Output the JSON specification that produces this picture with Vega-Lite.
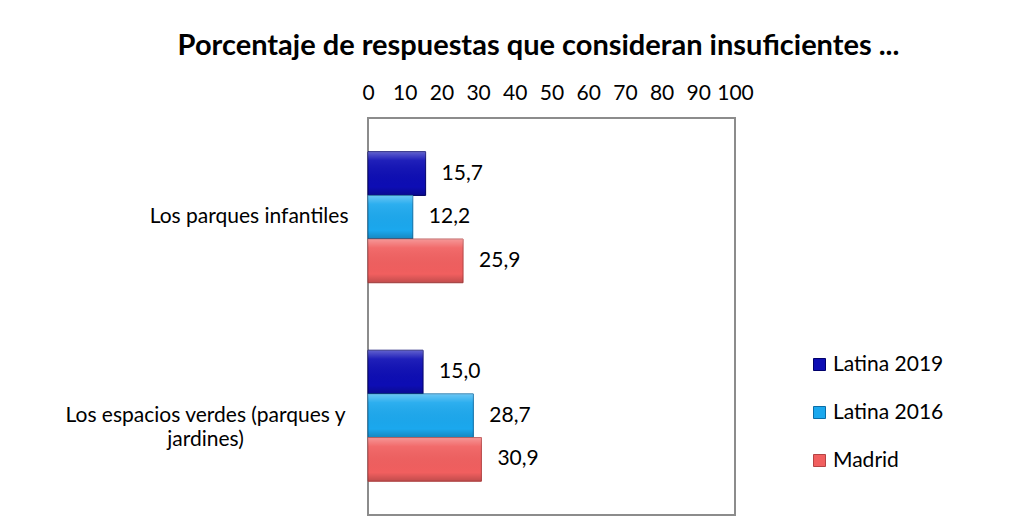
{
  "$schema": "https://vega.github.io/schema/vega-lite/v6.json",
  "width": 367,
  "height": 397,
  "autosize": "none",
  "padding": {"left": 368, "top": 118, "right": 275, "bottom": 14},
  "background": "white",
  "title": {
    "text": "Porcentaje de respuestas que consideran insuficientes ...",
    "font": "Lato",
    "fontSize": 29,
    "fontWeight": "bold",
    "color": "#000000",
    "anchor": "middle",
    "dx": -13,
    "offset": 21
  },
  "data": {
    "values": [
      {"categoria": "Los parques infantiles", "serie": "Latina 2019", "valor": 15.7},
      {"categoria": "Los parques infantiles", "serie": "Latina 2016", "valor": 12.2},
      {"categoria": "Los parques infantiles", "serie": "Madrid", "valor": 25.9},
      {"categoria": "Los espacios verdes (parques y jardines)", "serie": "Latina 2019", "valor": 15.0},
      {"categoria": "Los espacios verdes (parques y jardines)", "serie": "Latina 2016", "valor": 28.7},
      {"categoria": "Los espacios verdes (parques y jardines)", "serie": "Madrid", "valor": 30.9}
    ]
  },
  "encoding": {
    "y": {
      "field": "categoria",
      "type": "nominal",
      "sort": ["Los parques infantiles", "Los espacios verdes (parques y jardines)"],
      "scale": {"paddingInner": 0.34, "paddingOuter": 0.17},
      "axis": {
        "title": null,
        "domain": false,
        "ticks": false,
        "labelFont": "Lato",
        "labelFontSize": 21,
        "labelColor": "#000000",
        "labelLimit": 400,
        "labelLineHeight": 24,
        "labelAlign": {"condition": {"test": "indexof(datum.value, 'verdes') >= 0", "value": "center"}, "value": "right"},
        "labelPadding": {"condition": {"test": "indexof(datum.value, 'verdes') >= 0", "value": 163}, "value": 20},
        "labelExpr": "datum.value == 'Los espacios verdes (parques y jardines)' ? ['Los espacios verdes (parques y', 'jardines)'] : datum.value"
      }
    },
    "yOffset": {
      "field": "serie",
      "type": "nominal",
      "sort": ["Latina 2019", "Latina 2016", "Madrid"],
      "scale": {"paddingInner": 0, "paddingOuter": 0}
    },
    "x": {
      "field": "valor",
      "type": "quantitative",
      "scale": {"domain": [0, 100], "nice": false},
      "axis": {
        "orient": "top",
        "title": null,
        "values": [0, 10, 20, 30, 40, 50, 60, 70, 80, 90, 100],
        "format": "d",
        "grid": false,
        "domain": false,
        "ticks": false,
        "labelFont": "Lato",
        "labelFontSize": 21,
        "labelColor": "#000000",
        "labelPadding": 15,
        "labelFlush": false,
        "labelOverlap": false
      }
    }
  },
  "layer": [
    {
      "mark": {"type": "bar", "strokeWidth": 1},
      "encoding": {
        "color": {
          "field": "serie",
          "type": "nominal",
          "sort": ["Latina 2019", "Latina 2016", "Madrid"],
          "scale": {
            "domain": ["Latina 2019", "Latina 2016", "Madrid"],
            "range": ["#0d0db4", "#1ba8ee", "#f15f5f"]
          },
          "legend": {
            "title": null,
            "orient": "none",
            "legendX": 441,
            "legendY": 236,
            "symbolType": "square",
            "symbolSize": 144,
            "symbolStrokeWidth": 1,
            "labelFont": "Lato",
            "labelFontSize": 21,
            "labelColor": "#000000",
            "labelOffset": 3,
            "rowPadding": 26,
            "padding": 0
          }
        },
        "stroke": {
          "field": "serie",
          "type": "nominal",
          "scale": {
            "domain": ["Latina 2019", "Latina 2016", "Madrid"],
            "range": ["#00006a", "#0b6da6", "#b44444"]
          },
          "legend": null
        }
      }
    },
    {
      "mark": {
        "type": "bar",
        "fill": {
          "gradient": "linear",
          "x1": 0, "y1": 0, "x2": 0, "y2": 1,
          "stops": [
            {"offset": 0, "color": "rgba(255,255,255,0.35)"},
            {"offset": 0.2, "color": "rgba(255,255,255,0.08)"},
            {"offset": 0.8, "color": "rgba(0,0,0,0)"},
            {"offset": 1, "color": "rgba(0,0,0,0.2)"}
          ]
        }
      },
      "encoding": {}
    },
    {
      "mark": {
        "type": "text",
        "align": "left",
        "baseline": "middle",
        "dx": 16,
        "font": "Lato",
        "fontSize": 21,
        "color": "#000000"
      },
      "encoding": {
        "text": {"field": "valor", "type": "quantitative", "format": ".1f"}
      }
    }
  ],
  "config": {
    "locale": {
      "number": {"decimal": ",", "thousands": ".", "grouping": [3], "currency": ["", " €"]}
    },
    "view": {"stroke": "#8c8c8c", "strokeWidth": 2}
  }
}
